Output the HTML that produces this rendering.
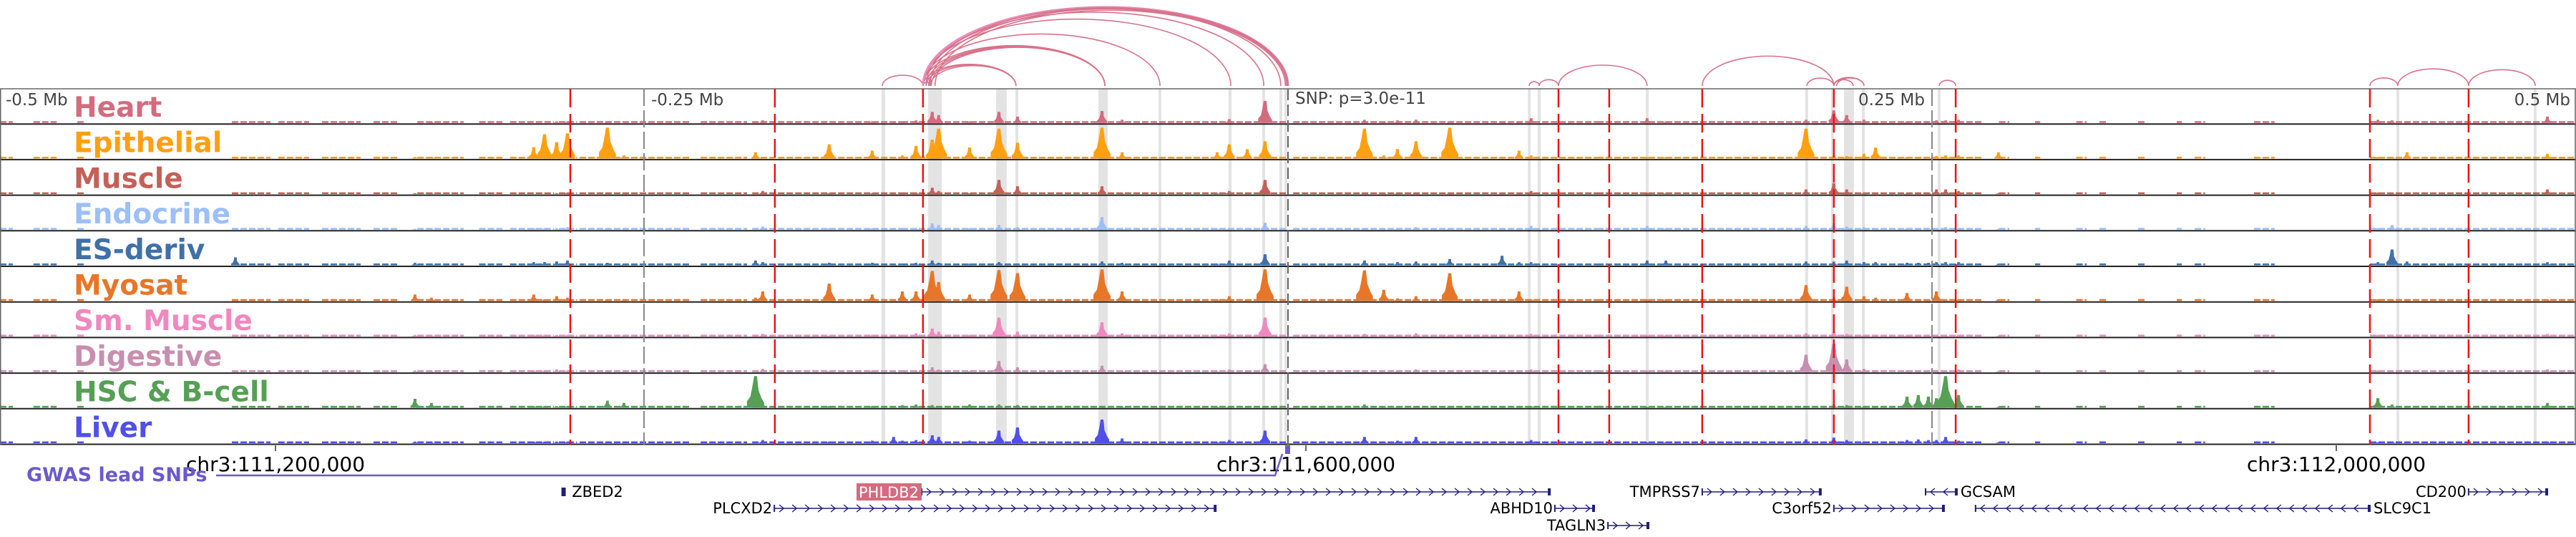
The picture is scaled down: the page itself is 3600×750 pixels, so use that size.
<!DOCTYPE html>
<html><head><meta charset="utf-8"><style>
html,body{margin:0;padding:0;background:#fff;}
svg{display:block;}
text{font-family:"DejaVu Sans","Liberation Sans",sans-serif;}
</style></head><body>
<svg id="chart" xmlns="http://www.w3.org/2000/svg" width="3600" height="750" viewBox="0 0 3600 750">
<g id="bands"></g>
<g id="tracks"></g>
<g id="vlines"></g>
<g id="arcs"></g>
<g id="labels"></g>
<g id="axis"></g>
<g id="genes"></g>
</svg>
<script>
// ---- data (positions in kb relative to lead SNP) ----
const trackNames = ["Heart","Epithelial","Muscle","Endocrine","ES-deriv","Myosat","Sm. Muscle","Digestive","HSC & B-cell","Liver"];
const trackColors = ["#d46b7e","#ffa010","#c46058","#9cbff8","#3f70a8","#e87628","#f088c0","#c88eb0","#55a055","#5050e8"];
const peakPos = [-408.6,-338.9,-332.5,-292.8,-288.6,-283.9,-279.7,-264.2,-257.8,-206.7,-203.9,-178.1,-161.4,-153.1,-149.7,-144.4,-138.1,-135.6,-123.6,-112.2,-105.0,-72.2,-64.4,-27.5,-22.8,-15.8,-8.9,29.7,37.2,42.5,49.7,62.8,83.1,89.7,94.4,139.4,146.7,201.1,211.9,216.9,223.6,228.1,240.3,244.7,248.6,251.7,255.3,260.3,275.8,423.1,428.6,434.4,488.9];
const heart = [0,0,0.03,0,0,0.05,0.05,0.05,0,0.05,0.08,0,0.05,0.05,0.05,0.08,0.35,0.25,0.05,0.35,0.2,0.38,0.1,0,0.12,0.05,0.7,0.1,0.05,0.08,0.1,0.05,0.05,0.05,0.15,0.15,0.05,0.1,0.4,0.25,0.1,0.05,0.05,0.05,0.05,0.08,0.08,0.1,0,0.1,0.08,0.05,0.2];
const epithelial = [0,0.05,0.05,0.36,0.77,0.52,0.8,0.98,0.1,0.2,0.05,0.45,0.25,0.05,0.1,0.4,0.6,0.95,0.35,0.95,0.5,0.98,0.2,0.2,0.45,0.3,0.55,0.95,0.1,0.3,0.55,0.98,0.05,0.25,0.1,0.05,0.05,0.95,0.1,0.08,0.15,0.35,0.05,0.05,0.05,0.08,0.1,0.1,0.2,0.05,0.05,0.2,0.15];
const muscle = [0.05,0.03,0.03,0,0,0.03,0.05,0.03,0.03,0.03,0.1,0.03,0.03,0.03,0.03,0.05,0.2,0.1,0.03,0.45,0.25,0.25,0.03,0.03,0.1,0.05,0.45,0.05,0.03,0.05,0.05,0.05,0.03,0.03,0.1,0.05,0.03,0.15,0.35,0.15,0.05,0.03,0.03,0.05,0.05,0.15,0.15,0.1,0.03,0.05,0.05,0.03,0.15];
const endocrine = [0.03,0.03,0.03,0.05,0.05,0.05,0.08,0.05,0.03,0.05,0.1,0.05,0.05,0.05,0.05,0.05,0.2,0.15,0.05,0.15,0.08,0.4,0.05,0.03,0.05,0.05,0.22,0.05,0.03,0.05,0.08,0.05,0.05,0.05,0.12,0.12,0.05,0.12,0.2,0.1,0.08,0.03,0.05,0.05,0.05,0.05,0.08,0.05,0.03,0.05,0.15,0.05,0.05];
const esDeriv = [0.25,0.08,0.05,0.1,0.1,0.12,0.15,0.08,0.05,0.15,0.1,0.08,0.08,0.05,0.05,0.08,0.15,0.08,0.05,0.1,0.05,0.12,0.08,0.05,0.15,0.05,0.35,0.15,0.05,0.1,0.12,0.2,0.3,0.1,0.1,0.15,0.15,0.12,0.12,0.15,0.1,0.1,0.08,0.08,0.08,0.1,0.1,0.1,0.05,0.1,0.5,0.12,0.1];
const myosat = [0.05,0.2,0.1,0.2,0.05,0.15,0.1,0.05,0.05,0.1,0.3,0.55,0.2,0.05,0.3,0.3,0.95,0.6,0.2,0.98,0.88,1.0,0.3,0.05,0.15,0.05,1.0,0.97,0.35,0.08,0.15,0.88,0.05,0.3,0.05,0.05,0.05,0.5,0.1,0.45,0.15,0.1,0.25,0.05,0.05,0.3,0.05,0.05,0.05,0.05,0.05,0.05,0.05];
const smMuscle = [0.03,0.05,0.03,0.05,0.05,0.05,0.05,0.03,0.03,0.05,0.08,0.03,0.05,0.03,0.05,0.1,0.25,0.15,0.05,0.6,0.15,0.45,0.1,0.03,0.1,0.05,0.6,0.08,0.05,0.05,0.1,0.05,0.03,0.05,0.08,0.05,0.05,0.1,0.15,0.08,0.05,0.03,0.05,0.05,0.05,0.05,0.05,0.05,0.03,0.05,0.05,0.05,0.08];
const digestive = [0.03,0.05,0.03,0.05,0.05,0.08,0.05,0.05,0.03,0.05,0.1,0.03,0.05,0.03,0.05,0.05,0.15,0.08,0.03,0.35,0.15,0.2,0.05,0.03,0.08,0.05,0.25,0.05,0.03,0.05,0.08,0.05,0.03,0.03,0.08,0.05,0.05,0.55,0.9,0.4,0.1,0.05,0.05,0.05,0.05,0.05,0.05,0.08,0.03,0.05,0.05,0.05,0.08];
const hsc = [0.03,0.28,0.15,0.05,0.05,0.05,0.05,0.22,0.15,1.0,0.15,0.05,0.05,0.05,0.08,0.1,0.08,0.05,0.1,0.1,0.08,0.05,0.03,0.03,0.05,0.03,0.05,0.1,0.03,0.03,0.05,0.05,0.03,0.03,0.05,0.03,0.03,0.05,0.1,0.08,0.05,0.03,0.35,0.4,0.35,0.3,1.0,0.4,0.03,0.3,0.1,0.05,0.15];
const liver = [0.03,0.05,0.03,0.05,0.05,0.05,0.05,0.05,0.03,0.05,0.1,0.05,0.08,0.2,0.08,0.1,0.25,0.2,0.08,0.4,0.5,0.75,0.15,0.03,0.1,0.05,0.4,0.2,0.05,0.08,0.2,0.05,0.03,0.05,0.1,0.03,0.03,0.12,0.18,0.1,0.05,0.03,0.1,0.12,0.1,0.1,0.2,0.08,0.03,0.03,0.05,0.03,0.05];
const coverage = [[-500,-495],[-487,-478],[-470,-467],[-410,-395],[-392,-380],[-375,-360],[-355,-345],[-338,-320],[-314,-305],[-302,-285],[-283,-276],[-275,-232],[-228,-210],[-208,-150],[-150,-140],[-140,-50],[-50,-10],[-10,0],[2,120],[120,200],[200,270],[276,280],[290,292],[306,310],[315,318],[330,333],[345,347],[352,356],[375,383],[420,500]];
const bandStarts = [-157.8,-139.7,-113.3,-105.8,-73.6,-50.3,-23.1,-10.0,-3.3,-1.4,93.1,96.9,138.9,200.8,210.8,215.8,222.8,252.2,430.3,483.6];
const bandEnds   = [-156.4,-134.4,-109.2,-104.7,-70.0,-49.2,-21.9,-8.9,-2.2,-0.3,94.2,98.1,140.0,201.9,211.9,219.7,223.9,253.3,431.4,484.7];
const redLines = [-278.6,-199.2,-141.7,105.0,124.7,160.8,211.9,259.2,420.0,458.3];
const arcStarts = [-157.5,-141.7,-141.7,-140.5,-139,-141.7,-140.5,-139.5,-138.5,-141.7,-141.7,-141.7,-141.7,-141.7,-140.5,-139,-137,93.6,97.5,105,160.8,201.4,211.9,211.9,213,252.8,420,430.8,458.3];
const arcEnds   = [-141.7,-138.9,-105.6,-105.6,-105.6,-71.1,-71.1,-71.1,-71.1,-49.7,-22.2,-9.4,-2.8,0,0,-0.5,-1,97.5,105,139.4,211.9,211.9,219.4,223.6,223.6,259.2,430.8,458.3,484.2];
const mbTicks = [-500,-250,250,500];
const mbLabels = ["-0.5 Mb","-0.25 Mb","0.25 Mb","0.5 Mb"];
const chrTicks = [-400,0,400];
const chrLabels = ["chr3:111,200,000","chr3:111,600,000","chr3:112,000,000"];
const geneNames = ["ZBED2","PHLDB2","TMPRSS7","GCSAM","CD200","PLCXD2","ABHD10","C3orf52","SLC9C1","TAGLN3"];
const geneStarts = [-281.5,-142.2,160.8,247.5,458.3,-199.4,103.6,211.9,266.9,124.2];
const geneEnds   = [-280.5,101.7,206.9,259.7,488.9,-28.0,118.9,254.7,420.0,140.0];
const geneStrand = [1,1,1,-1,1,1,1,1,-1,1];
const geneRow = [0,0,0,0,0,1,1,1,1,2];
const geneLabelSide = ["right","left","left","right","left","left","left","left","right","left"];

// ---- scales ----
const NS="http://www.w3.org/2000/svg";
const xScale = kb => 1800 + kb*3.6;
const coordScale = kb => 1825 + kb*3.6;
const T0=124, TH=49.7, MAXH=44;
const trackTop = i => T0 + i*TH;
const series=[heart,epithelial,muscle,endocrine,esDeriv,myosat,smMuscle,digestive,hsc,liver];
function mk(tag, attrs, parent){const e=document.createElementNS(NS,tag);for(const k in attrs)e.setAttribute(k,attrs[k]);parent.appendChild(e);return e;}

const gB=document.getElementById('bands');
bandStarts.forEach((s,i)=>{
  const x1=xScale(s), x2=xScale(bandEnds[i]);
  const r=mk('rect',{x:x1,y:T0,width:Math.max(3,x2-x1),height:10*TH,fill:'#e3e3e3'},gB);
  
  
});

const gT=document.getElementById('tracks');
series.forEach((vals,ti)=>{
  const g=mk('g',{},gT);
  
  
  const base=trackTop(ti)+TH-2;
  const col=trackColors[ti];
  coverage.forEach(c=>{
    const x1=xScale(c[0]),x2=xScale(c[1]);
    for(let x=x1;x<x2;x+=12){
      const r=mk('rect',{x:x,y:base-2.5,width:Math.min(9,x2-x),height:2.5,fill:col},g);
      
      
    }
  });
  peakPos.forEach((p,i)=>{
    const v=vals[i]; if(!v) return;
    const x=xScale(p), h=v*MAXH;
    const w=4+v*8;
    const pts=[[x-w,base],[x-w,base-h*0.2],[x-w*0.6,base-h*0.35],[x-w*0.35,base-h*0.7],[x-2,base-h],[x+2,base-h],[x+w*0.35,base-h*0.55],[x+w*0.7,base-h*0.3],[x+w,base-h*0.15],[x+w,base]];
    const pg=mk('polygon',{points:pts.map(q=>q.join(',')).join(' '),fill:col},g);
    
    
  });
  const ln=mk('line',{x1:0,x2:3600,y1:trackTop(ti)+TH-0.5,y2:trackTop(ti)+TH-0.5,stroke:'#222','stroke-width':2},g);
  
  
});
mk('line',{x1:0,x2:3600,y1:T0,y2:T0,stroke:'#666','stroke-width':1.5},gT);
mk('line',{x1:0.75,x2:0.75,y1:T0,y2:T0+10*TH,stroke:'#666','stroke-width':1.5},gT);
mk('line',{x1:3599,x2:3599,y1:T0,y2:T0+10*TH,stroke:'#666','stroke-width':1.5},gT);

const gV=document.getElementById('vlines');
mbTicks.forEach((m,i)=>{
  const x=xScale(m);
  if(Math.abs(m)<500){
    const l=mk('line',{x1:x,x2:x,y1:T0,y2:T0+10*TH,stroke:'#888','stroke-width':2,'stroke-dasharray':'24 6'},gV);
    
    
  }
  let anchor, tx;
  if(m<=-500){anchor='start';tx=8;}
  else if(m>=500){anchor='end';tx=3592;}
  else if(m<0){anchor='start';tx=x+10;}
  else {anchor='end';tx=x-10;}
  const t=mk('text',{x:tx,y:147,'font-size':23,fill:'#444','text-anchor':anchor},gV);
  t.textContent=mbLabels[i];
  
  
});
{
  const l=mk('line',{x1:1800,x2:1800,y1:T0,y2:T0+10*TH,stroke:'#666','stroke-width':2,'stroke-dasharray':'16 6'},gV);
  
  
  const t=mk('text',{x:1810,y:145,'font-size':23,fill:'#444'},gV);
  t.textContent='SNP: p=3.0e-11';
  
  
}
redLines.forEach(k=>{
  const x=xScale(k);
  const l=mk('line',{x1:x,x2:x,y1:T0,y2:T0+10*TH,stroke:'#ee1111','stroke-width':2.5,'stroke-dasharray':'26 9'},gV);
  
  
});

const gA=document.getElementById('arcs');
arcStarts.forEach((s,i)=>{
  const x1=xScale(s), x2=xScale(arcEnds[i]);
  const rx=(x2-x1)/2, ry=rx*0.42+3;
  const big=(x2-x1)>450;
  const p=mk('path',{d:`M${x1},120 A${rx},${ry} 0 0 1 ${x2},120`,fill:'none',stroke:big&&i===13?'#ea8cbc':'#d8728a','stroke-width':big&&i===13?3:1.6},gA);
  
  
});

const gL=document.getElementById('labels');
trackNames.forEach((n,i)=>{
  const t=mk('text',{x:103,y:trackTop(i)+39,'font-size':39,'font-weight':'bold',fill:trackColors[i]},gL);
  t.textContent=n;
  
  
});

const gX=document.getElementById('axis');
chrTicks.forEach((k,i)=>{
  const x=coordScale(k);
  mk('line',{x1:x,x2:x,y1:622,y2:630,stroke:'#333','stroke-width':1.5},gX);
  const t=mk('text',{x:x,y:658,'font-size':28,fill:'#000','text-anchor':'middle'},gX);
  t.textContent=chrLabels[i];
  
  
});
{
  const t=mk('text',{x:37,y:672,'font-size':27,'font-weight':'bold',fill:'#6a5acd'},gX);
  t.textContent='GWAS lead SNPs';
  
  
  const p=mk('polyline',{points:'302,664 1782,664 1792,634',fill:'none',stroke:'#6a5acd','stroke-width':2.5},gX);
  
  
  const r=mk('rect',{x:1796,y:622,width:7,height:12,fill:'#6a5acd'},gX);
  
  
}

const gG=document.getElementById('genes');
const rowY=[687,710,734];
geneNames.forEach((n,i)=>{
  const g=mk('g',{},gG);
  
  
  const y=rowY[geneRow[i]], x1=xScale(geneStarts[i]), x2=xScale(geneEnds[i]);
  const col='#1f1f78';
  if(x2-x1>8){
    mk('line',{x1:x1,x2:x2,y1:y,y2:y,stroke:col,'stroke-width':1.5},g);
    for(let x=x1+10;x<x2-6;x+=18){
      const d=geneStrand[i]>0?`M${x-3},${y-5} L${x+3},${y} L${x-3},${y+5}`:`M${x+3},${y-5} L${x-3},${y} L${x+3},${y+5}`;
      mk('path',{d:d,fill:'none',stroke:col,'stroke-width':1.4},g);
    }
    mk('line',{x1:x1,x2:x1,y1:y-5,y2:y+5,stroke:col,'stroke-width':2},g);
    mk('rect',{x:x2-3,y:y-5,width:4,height:10,fill:col},g);
  } else {
    mk('rect',{x:x1-2,y:y-6,width:6,height:12,fill:col},g);
  }
  const left=geneLabelSide[i]==='left';
  if(n==='PHLDB2'){
    mk('rect',{x:1197,y:675,width:91,height:24,fill:'#d46b7e'},g);
    const t=mk('text',{x:1242,y:695,'font-size':21,fill:'#fff','text-anchor':'middle'},g);
    t.textContent=n;
  } else {
    const t=mk('text',{x:left?x1-3:x2+(x2-x1>8?5:9),y:y+7,'font-size':21,fill:'#000','text-anchor':left?'end':'start'},g);
    t.textContent=n;
  }
});
</script>
</body></html>
